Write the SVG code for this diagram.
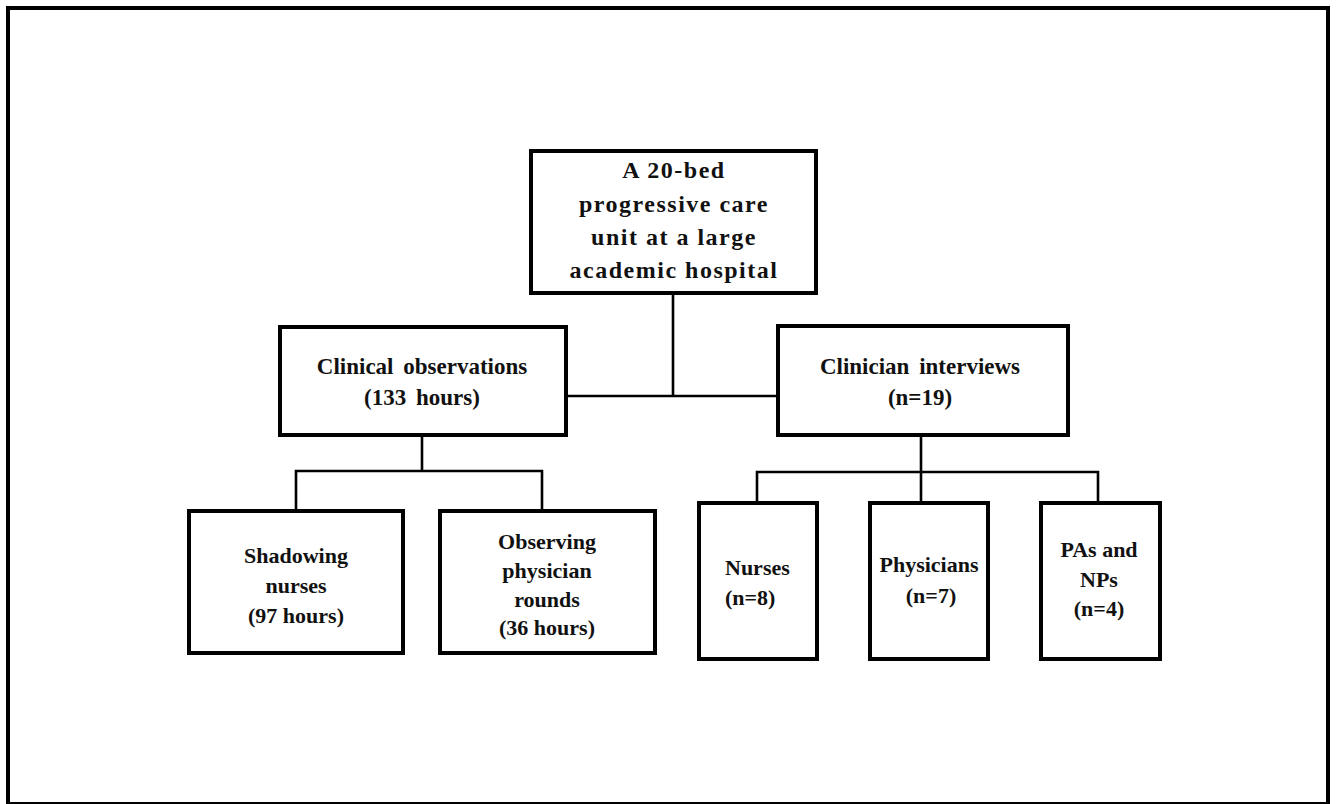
<svg xmlns="http://www.w3.org/2000/svg" width="1336" height="804" viewBox="0 0 1336 804">
<style>
.box{fill:#fff;stroke:#000;stroke-width:4}
.ln{fill:none;stroke:#000;stroke-width:2.6}
text{font-family:"Liberation Serif","Times New Roman",serif;font-weight:bold;fill:#111;text-anchor:middle}
.t1{font-size:24px;letter-spacing:1.5px}
.t2{font-size:23px;word-spacing:4px}
.t3{font-size:22px}
</style>
<rect x="0" y="0" width="1336" height="804" fill="#fff"/>
<rect x="8" y="8" width="1320" height="796" fill="none" stroke="#000" stroke-width="4"/>
<g id="connectors">
<polyline class="ln" points="673,293 673,396"/>
<polyline class="ln" points="566,396 778,396"/>
<polyline class="ln" points="422,435 422,471"/>
<polyline class="ln" points="296,510 296,471 542,471 542,510"/>
<polyline class="ln" points="921,435 921,503"/>
<polyline class="ln" points="757,503 757,472 1098,472 1098,503"/>
</g>
<g id="top">
<rect class="box" x="531" y="151" width="285" height="142"/>
<text class="t1" x="674" y="178">A 20-bed</text>
<text class="t1" x="674" y="212">progressive care</text>
<text class="t1" x="674" y="245">unit at a large</text>
<text class="t1" x="674" y="278">academic hospital</text>
</g>
<g id="clinical">
<rect class="box" x="280" y="327" width="286" height="108"/>
<text class="t2" x="422" y="374">Clinical observations</text>
<text class="t2" x="422" y="405">(133 hours)</text>
</g>
<g id="interviews">
<rect class="box" x="778" y="326" width="290" height="109"/>
<text class="t2" x="920" y="374">Clinician interviews</text>
<text class="t2" x="920" y="405">(n=19)</text>
</g>
<g id="shadowing">
<rect class="box" x="189" y="511" width="214" height="142"/>
<text class="t3" x="296" y="563">Shadowing</text>
<text class="t3" x="296" y="593">nurses</text>
<text class="t3" x="296" y="623">(97 hours)</text>
</g>
<g id="observing">
<rect class="box" x="440" y="511" width="215" height="142"/>
<text class="t3" x="547" y="549">Observing</text>
<text class="t3" x="547" y="578">physician</text>
<text class="t3" x="547" y="607">rounds</text>
<text class="t3" x="547" y="635">(36 hours)</text>
</g>
<g id="nurses">
<rect class="box" x="699" y="503" width="118" height="156"/>
<text class="t3" x="725" y="575" style="text-anchor:start">Nurses</text>
<text class="t3" x="725" y="605" style="text-anchor:start">(n=8)</text>
</g>
<g id="physicians">
<rect class="box" x="870" y="503" width="118" height="156"/>
<text class="t3" x="929" y="572">Physicians</text>
<text class="t3" x="931" y="603">(n=7)</text>
</g>
<g id="pas">
<rect class="box" x="1041" y="503" width="119" height="156"/>
<text class="t3" x="1099" y="557">PAs and</text>
<text class="t3" x="1099" y="587">NPs</text>
<text class="t3" x="1099" y="616">(n=4)</text>
</g>
</svg>
